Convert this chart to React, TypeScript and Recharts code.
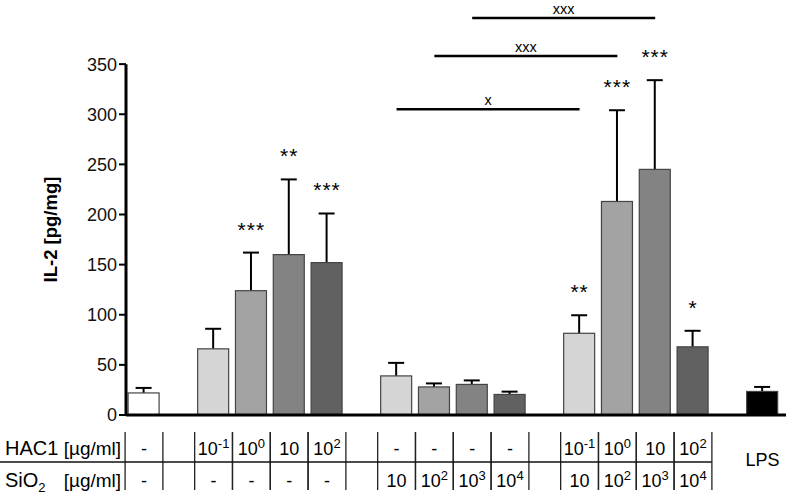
import React from 'react';
import {
  BarChart,
  Bar,
  XAxis,
  YAxis,
  Cell,
  ReferenceLine,
  ReferenceDot
} from 'recharts';

// 0 = control, 1 = HAC1, 2 = SiO2, 3 = HAC1 + SiO2, 4 = LPS
const groupOf = [0, 1, 1, 1, 1, 2, 2, 2, 2, 3, 3, 3, 3, 4];
const hac1Doses = ['-', '10^-1', '10^0', '10', '10^2', '-', '-', '-', '-', '10^-1', '10^0', '10', '10^2', ''];
const sio2Doses = ['-', '-', '-', '-', '-', '10', '10^2', '10^3', '10^4', '10', '10^2', '10^3', '10^4', ''];
const il2Mean = [22, 66, 124, 160, 152, 39, 28, 30.5, 20.5, 81.5, 213, 245, 68, 23.5];
const il2Sem = [5, 20, 38, 75, 49, 13, 3.5, 4, 2.8, 18, 91, 89, 16, 4.5];
const stars = ['', '', '***', '**', '***', '', '', '', '', '**', '***', '***', '*', ''];
const comparisons = [
  { from: 5, to: 9, label: 'x' },
  { from: 6, to: 10, label: 'xxx' },
  { from: 7, to: 11, label: 'xxx' }
];
const comparisonLevels = [305, 358, 396];
const yTicks = [0, 50, 100, 150, 200, 250, 300, 350];

const SHADES = ['#d5d5d5', '#a3a3a3', '#838383', '#616161'];
const GROUP_GAP = 0.84;
const X_DOMAIN = [-0.476, 16.98];
const FONT = '"Liberation Sans", Arial, sans-serif';

const positions = groupOf.map((g, i) => i + g * GROUP_GAP);

const fillFor = (i: number) => {
  const g = groupOf[i];
  if (g === 0) return '#ffffff';
  if (g === 4) return '#000000';
  return SHADES[i - groupOf.indexOf(g)];
};

const rows = positions.map((p, i) => ({
  pos: p,
  il2: il2Mean[i],
  sem: il2Sem[i]
}));

// bar with the upper half of its SEM whisker; the whisker uses the bar's own px/unit
const BarWithSem = (p: any) => {
  const { x, y, width, height, fill, payload } = p;
  if (!height) return null;
  const perUnit = height / payload.il2;
  const top = y - payload.sem * perUnit;
  const cx = x + width / 2;
  return (
    <g>
      <line x1={cx} x2={cx} y1={y} y2={top} stroke="#000" strokeWidth={2} />
      <line x1={cx - 8} x2={cx + 8} y1={top} y2={top} stroke="#000" strokeWidth={2} />
      <rect x={x} y={y} width={width} height={height} fill={fill} stroke="#444" strokeWidth={1.2} />
    </g>
  );
};

const Dose = ({ x, y, label }: { x: number; y: number; label: string }) => {
  const [base, exp] = label.split('^');
  return (
    <text x={x} y={y} textAnchor="middle" fontSize={18} fill="#000" fontFamily={FONT}>
      <tspan>{base}</tspan>
      {exp !== undefined && (
        <tspan dy={-7} fontSize={13}>{exp}</tspan>
      )}
    </text>
  );
};

// the dose table under the axis, one column per bar
const TableTick = (props: any) => {
  const { x, y, index, width } = props;
  const half = width / (X_DOMAIN[1] - X_DOMAIN[0]) / 2;
  const last = positions.length - 1;

  if (index === last) {
    return (
      <text x={x} y={y + 51} textAnchor="middle" fontSize={18} fill="#000" fontFamily={FONT}>
        LPS
      </text>
    );
  }

  return (
    <g>
      {index === 0 && (
        <g fontFamily={FONT} fill="#000">
          <text x={5} y={y + 40} fontSize={20}>HAC1</text>
          <text x={x - half - 4} y={y + 40} textAnchor="end" fontSize={19}>[µg/ml]</text>
          <text x={5} y={y + 72} fontSize={20}>
            SiO<tspan dy={5} fontSize={13}>2</tspan>
          </text>
          <text x={x - half - 4} y={y + 72} textAnchor="end" fontSize={19}>[µg/ml]</text>
        </g>
      )}
      {index === last - 1 && (
        <line x1={0} x2={x + half} y1={y + 47} y2={y + 47} stroke="#111" strokeWidth={1.3} />
      )}
      <line x1={x - half} x2={x - half} y1={y + 17} y2={y + 75} stroke="#222" strokeWidth={1.3} />
      <line x1={x + half} x2={x + half} y1={y + 17} y2={y + 75} stroke="#222" strokeWidth={1.3} />
      <Dose x={x} y={y + 40} label={hac1Doses[index]} />
      <Dose x={x} y={y + 72} label={sio2Doses[index]} />
    </g>
  );
};

const YLabel = ({ viewBox }: any) => {
  const cx = viewBox.x + 50;
  const cy = viewBox.y + viewBox.height / 2 + 15;
  return (
    <text
      x={cx}
      y={cy}
      transform={`rotate(-90, ${cx}, ${cy})`}
      textAnchor="middle"
      dominantBaseline="central"
      fontSize={18.5}
      fontWeight="bold"
      fill="#000"
      fontFamily={FONT}
    >
      IL-2 [pg/mg]
    </text>
  );
};

export default function App() {
  return (
    <div style={{ position: 'absolute', left: 0, top: 0, background: '#fff' }}>
      <BarChart
        width={791}
        height={497}
        data={rows}
        margin={{ top: 14, right: 5, left: 0, bottom: 0 }}
        style={{ fontFamily: FONT }}
      >
        <XAxis
          dataKey="pos"
          type="number"
          domain={X_DOMAIN}
          ticks={positions}
          interval={0}
          height={82}
          tickSize={0}
          tickMargin={0}
          tickLine={false}
          axisLine={{ stroke: '#000', strokeWidth: 3 }}
          tick={<TableTick />}
        />
        <YAxis
          type="number"
          domain={[0, 400]}
          ticks={yTicks}
          width={126}
          axisLine={false}
          tickSize={7}
          tickMargin={2}
          tickLine={{ stroke: '#000', strokeWidth: 2 }}
          tick={{ fill: '#111', fontSize: 18, fontFamily: FONT }}
          label={{ content: <YLabel /> }}
        />
        <ReferenceLine
          segment={[{ x: X_DOMAIN[0], y: 0 }, { x: X_DOMAIN[0], y: 350 }]}
          stroke="#000"
          strokeWidth={3}
          ifOverflow="visible"
        />
        <Bar dataKey="il2" barSize={31} shape={<BarWithSem />} isAnimationActive={false}>
          {rows.map((_, i) => (
            <Cell key={i} fill={fillFor(i)} />
          ))}
        </Bar>
        {stars.map((s, i) =>
          s ? (
            <ReferenceDot
              key={`s${i}`}
              x={positions[i]}
              y={il2Mean[i] + il2Sem[i]}
              r={1}
              ifOverflow="visible"
              shape={(p: any) => (
                <text x={p.cx} y={p.cy - 16} textAnchor="middle" fontSize={21} letterSpacing={1} fill="#000" fontFamily={FONT}>
                  {s}
                </text>
              )}
            />
          ) : null
        )}
        {comparisons.map((c, k) => (
          <ReferenceLine
            key={`c${k}`}
            segment={[
              { x: positions[c.from], y: comparisonLevels[k] },
              { x: positions[c.to], y: comparisonLevels[k] }
            ]}
            stroke="#000"
            strokeWidth={2.5}
            ifOverflow="visible"
          />
        ))}
        {comparisons.map((c, k) => (
          <ReferenceDot
            key={`cl${k}`}
            x={(positions[c.from] + positions[c.to]) / 2}
            y={comparisonLevels[k]}
            r={1}
            ifOverflow="visible"
            shape={(p: any) => (
              <text x={p.cx} y={p.cy - 4.5} textAnchor="middle" fontSize={14.5} fill="#000" fontFamily={FONT}>
                {c.label}
              </text>
            )}
          />
        ))}
      </BarChart>
    </div>
  );
}
